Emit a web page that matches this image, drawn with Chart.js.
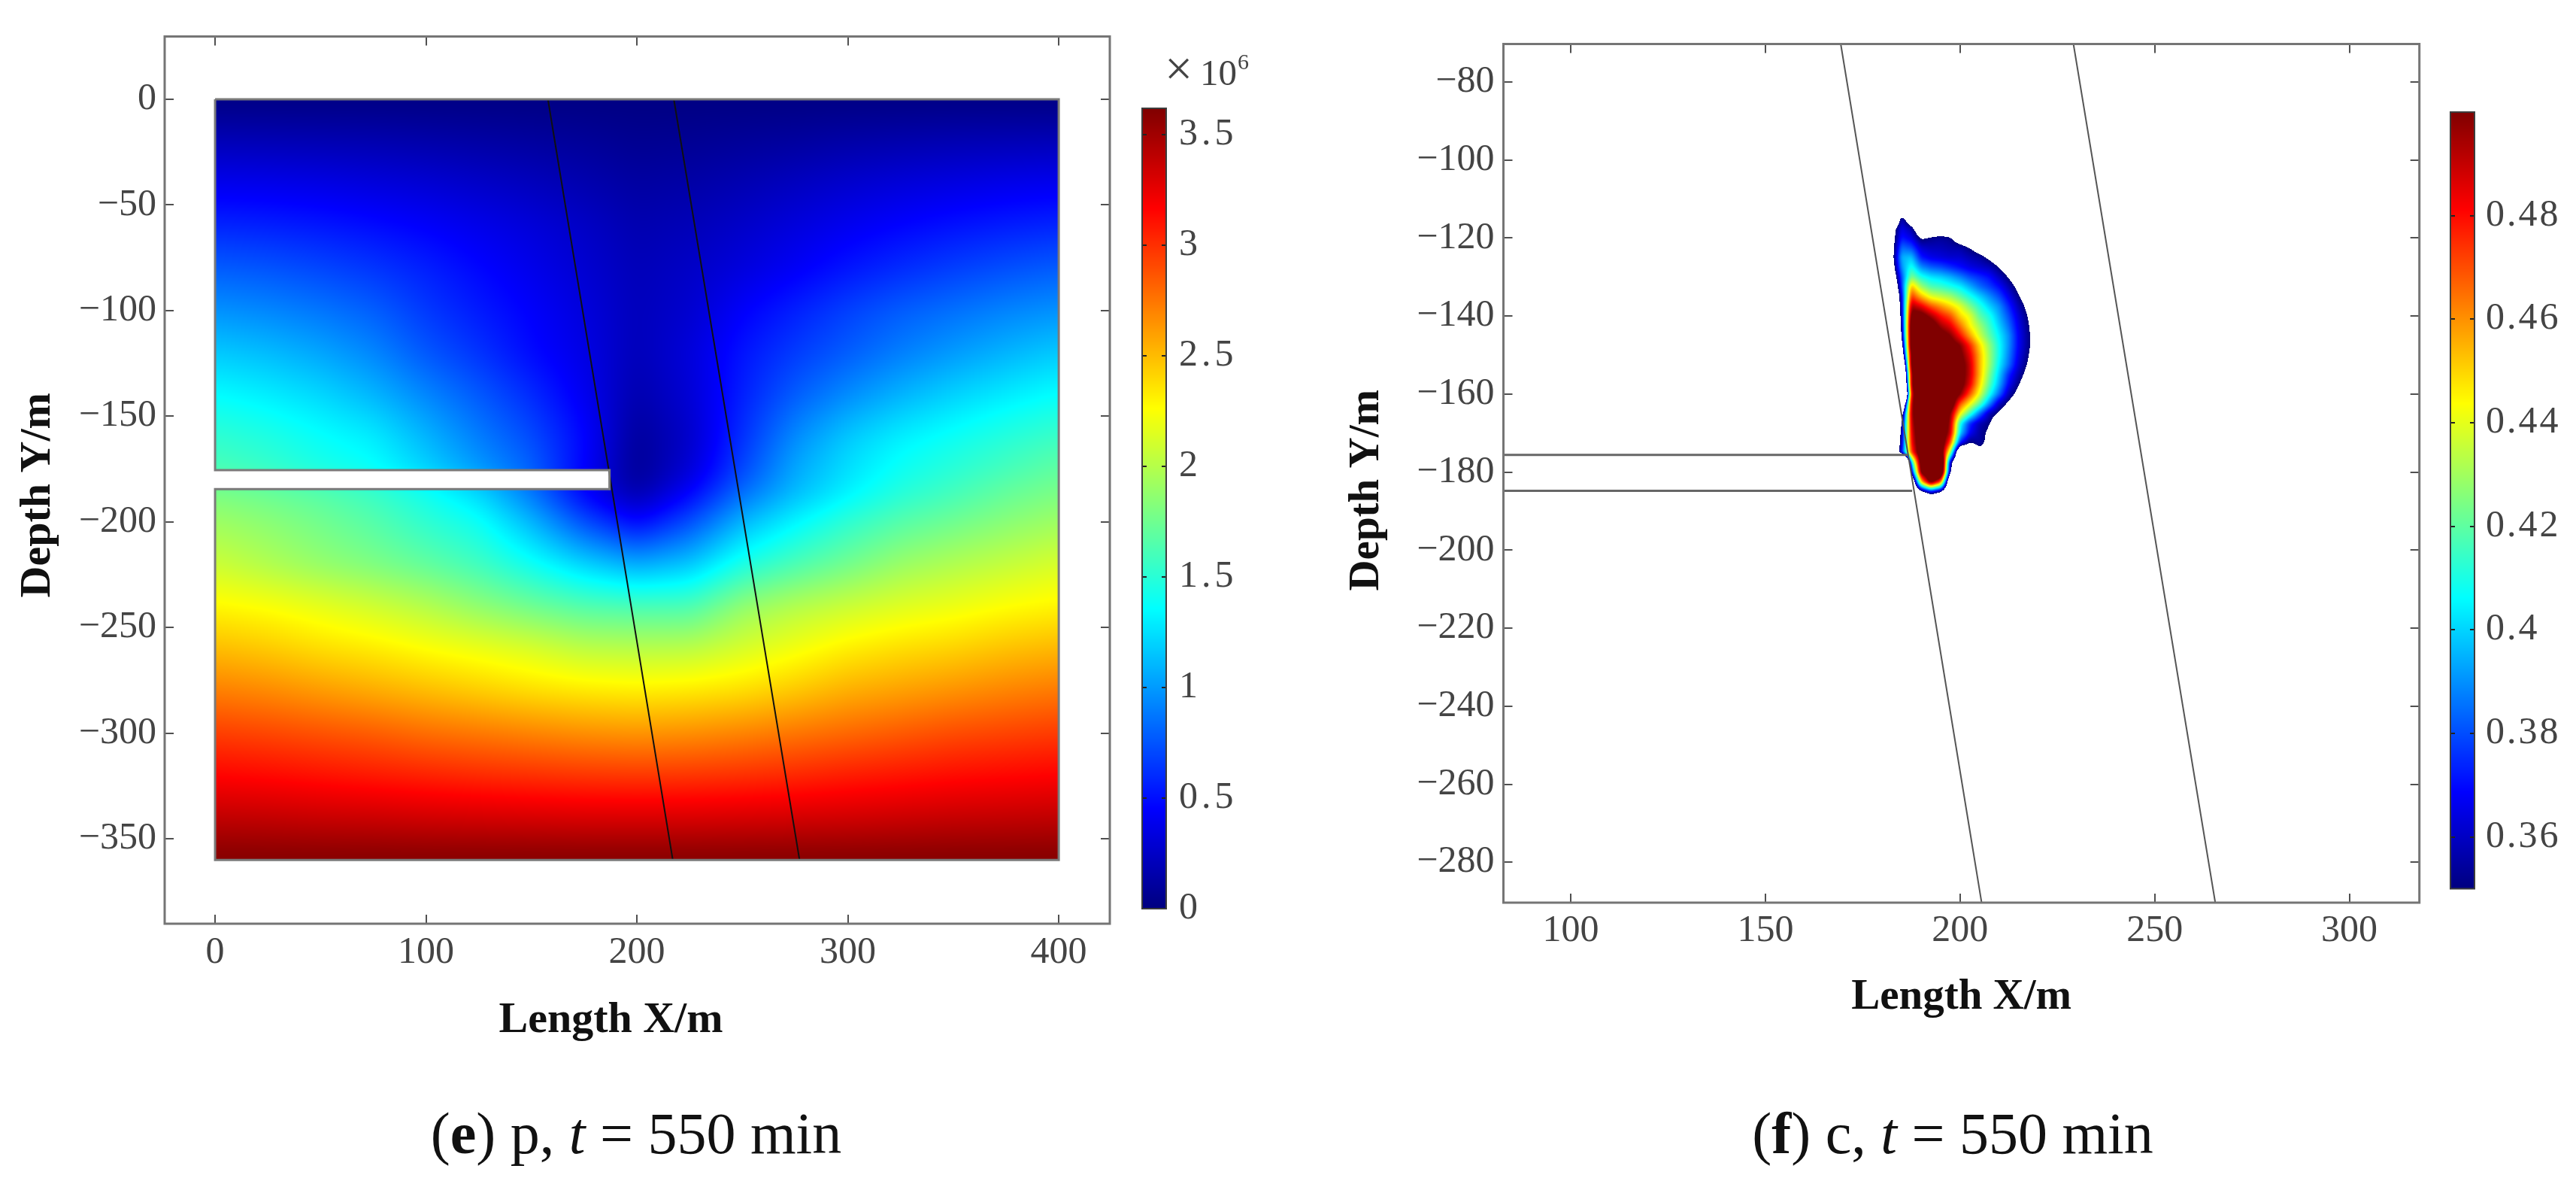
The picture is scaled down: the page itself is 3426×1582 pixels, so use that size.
<!DOCTYPE html>
<html><head><meta charset="utf-8">
<style>
html,body{margin:0;padding:0;background:#fff;width:3426px;height:1582px;overflow:hidden}
canvas{position:absolute}
.t{position:absolute;font-family:"Liberation Serif",serif;color:#111;white-space:nowrap;transform:translate(-50%,-50%)}
.cap{font-size:78px}
.m{position:absolute;font-family:"Liberation Serif",serif;color:#444;white-space:nowrap;line-height:1}
</style>
<script src="https://cdn.jsdelivr.net/npm/chart.js@4/dist/chart.umd.min.js"></script>
</head><body>
<canvas id="pMain"></canvas><canvas id="pBar"></canvas><canvas id="cMain"></canvas><canvas id="cBar"></canvas>
<div class="m" style="left:1549px;top:58px;font-size:66px">×</div>
<div class="m" style="left:1596px;top:72px;font-size:49px">10</div>
<div class="m" style="left:1646px;top:67px;font-size:30px">6</div>
<div class="t cap" style="left:846px;top:1507px">(<b>e</b>) p, <i>t</i> = 550 min</div>
<div class="t cap" style="left:2597px;top:1507px">(<b>f</b>) c, <i>t</i> = 550 min</div>
<script>
// ---------- values ----------
const xTitle = "Length X/m", yTitle = "Depth Y/m";
const pXTicks = [0,100,200,300,400];
const pYTicks = [0,-50,-100,-150,-200,-250,-300,-350];
const pBarTicks = [0,0.5,1,1.5,2,2.5,3,3.5];
const cXTicks = [100,150,200,250,300];
const cYTicks = [-80,-100,-120,-140,-160,-180,-200,-220,-240,-260,-280];
const cBarTicks = [0.36,0.38,0.4,0.42,0.44,0.46,0.48];
const faultAX = [157.8,217.0], faultAY = [0,-360];
const faultBX = [217.5,277.1], faultBY = [0,-360];
const outlineX = [0,400,400,0,0,187,187,0,0];
const outlineY = [0,0,-360,-360,-184.5,-184.5,-175.5,-175.5,0];
const slotTopX = [0,186.5], slotTopY = [-175.6,-175.6];
const slotLowX = [0,187.7], slotLowY = [-184.8,-184.8];

// pressure (x10^6) at grid nodes
const pGridX = [0,25,50,75,100,125,150,175,200,225,250,275,300,325,350,375,400];
const pGridY = [0,-20,-40,-60,-80,-100,-120,-140,-160,-175,-185,-200,-220,-240,-260,-280,-300,-320,-340,-360];
const pGrid = [
[.01,.01,.01,.01,.01,.01,.01,.01,.01,.01,.01,.01,.01,.01,.01,.01,.01],
[.20,.19,.18,.17,.15,.13,.11,.09,.06,.07,.09,.11,.14,.16,.18,.19,.20],
[.39,.38,.36,.33,.30,.26,.22,.17,.12,.14,.18,.23,.28,.32,.35,.38,.40],
[.58,.56,.53,.49,.44,.38,.32,.25,.17,.20,.26,.33,.40,.46,.51,.55,.58],
[.78,.75,.70,.64,.56,.47,.38,.29,.20,.25,.33,.42,.52,.60,.67,.73,.78],
[.97,.93,.87,.79,.65,.54,.44,.33,.21,.28,.44,.56,.68,.78,.85,.92,.97],
[1.17,1.12,1.04,.93,.76,.63,.48,.36,.20,.32,.52,.66,.78,.90,1.0,1.09,1.17],
[1.36,1.30,1.22,1.10,.93,.77,.60,.40,.16,.30,.56,.78,.95,1.09,1.20,1.29,1.37],
[1.53,1.47,1.38,1.30,1.10,.90,.72,.47,.09,.26,.62,.95,1.17,1.31,1.40,1.49,1.57],
[1.62,1.55,1.45,1.38,1.20,1.00,.80,.45,.07,.30,.70,1.05,1.25,1.40,1.50,1.60,1.70],
[1.78,1.72,1.65,1.55,1.40,1.20,.85,.42,.12,.42,.82,1.10,1.30,1.47,1.58,1.70,1.78],
[1.92,1.85,1.76,1.66,1.52,1.40,1.10,.72,.45,.72,1.10,1.33,1.52,1.66,1.75,1.84,1.92],
[2.08,1.98,1.88,1.80,1.70,1.58,1.40,1.20,1.05,1.15,1.45,1.62,1.76,1.90,1.98,2.05,2.12],
[2.29,2.25,2.18,2.10,2.00,1.87,1.75,1.65,1.62,1.62,1.88,2.00,2.08,2.15,2.20,2.26,2.30],
[2.50,2.45,2.38,2.33,2.26,2.20,2.13,2.03,2.01,2.02,2.12,2.22,2.32,2.38,2.42,2.48,2.52],
[2.72,2.68,2.62,2.56,2.50,2.44,2.38,2.34,2.32,2.34,2.38,2.46,2.55,2.60,2.65,2.70,2.74],
[2.95,2.92,2.88,2.84,2.78,2.74,2.70,2.66,2.64,2.66,2.70,2.75,2.80,2.85,2.90,2.93,2.96],
[3.16,3.14,3.11,3.08,3.05,3.02,3.00,2.98,2.97,2.98,3.00,3.03,3.07,3.10,3.13,3.15,3.17],
[3.39,3.38,3.36,3.35,3.33,3.32,3.31,3.30,3.30,3.30,3.31,3.32,3.33,3.35,3.37,3.38,3.39],
[3.62,3.62,3.62,3.62,3.62,3.62,3.62,3.62,3.62,3.62,3.62,3.62,3.62,3.62,3.62,3.62,3.62]
];

// concentration at grid nodes (below 0.35 is blank)
const cGridX = [182.5,185,187.5,190,192.5,195,197.5,200,202.5,205,207.5,210,212.5,215,217.5,220];
const cGridY = [-112.5,-115,-117.5,-120,-122.5,-125,-127.5,-130,-132.5,-135,-137.5,-140,-142.5,-145,-147.5,-150,-152.5,-155,-157.5,-160,-162.5,-165,-167.5,-170,-172.5,-175,-177.5,-180,-182.5,-185,-187.5];
const cGrid = [
[.30,.30,.30,.30,.30,.30,.30,.30,.30,.30,.30,.30,.30,.30,.30,.30],
[.30,.36,.33,.30,.30,.30,.30,.30,.30,.30,.30,.30,.30,.30,.30,.30],
[.34,.365,.356,.33,.33,.335,.33,.31,.30,.30,.30,.30,.30,.30,.30,.30],
[.34,.372,.365,.348,.352,.354,.352,.34,.33,.325,.31,.30,.30,.30,.30,.30],
[.34,.385,.38,.362,.359,.3585,.3565,.356,.35,.342,.334,.32,.30,.30,.30,.30],
[.34,.395,.398,.372,.366,.364,.362,.362,.358,.355,.347,.338,.328,.31,.30,.30],
[.335,.39,.41,.39,.383,.38,.375,.37,.365,.362,.359,.35,.3386,.328,.31,.30],
[.325,.38,.425,.41,.403,.40,.395,.388,.38,.375,.37,.36,.349,.337,.324,.31],
[.31,.375,.455,.43,.418,.415,.41,.405,.395,.385,.378,.37,.358,.345,.332,.32],
[.30,.365,.475,.455,.44,.435,.43,.42,.41,.40,.39,.38,.366,.352,.339,.325],
[.30,.36,.495,.485,.47,.46,.45,.44,.425,.412,.40,.39,.374,.358,.345,.33],
[.30,.355,.51,.51,.495,.48,.47,.45,.44,.42,.41,.395,.38,.363,.349,.334],
[.30,.35,.52,.52,.515,.495,.485,.465,.445,.43,.415,.40,.385,.366,.3515,.337],
[.30,.345,.52,.52,.52,.51,.50,.48,.458,.437,.42,.405,.39,.368,.353,.338],
[.30,.33,.52,.52,.52,.52,.51,.50,.477,.45,.428,.408,.39,.368,.353,.338],
[.30,.31,.51,.52,.52,.52,.52,.505,.485,.455,.43,.408,.388,.366,.351,.336],
[.30,.27,.51,.52,.52,.52,.52,.51,.49,.455,.43,.405,.385,.3625,.348,.333],
[.30,.23,.50,.52,.52,.52,.52,.51,.49,.455,.425,.40,.374,.357,.3433,.329],
[.30,.20,.50,.52,.52,.52,.52,.51,.485,.45,.42,.395,.368,.351,.338,.32],
[.30,.15,.49,.52,.52,.52,.52,.50,.47,.44,.41,.385,.358,.344,.33,.30],
[.30,.27,.495,.52,.52,.52,.52,.47,.444,.42,.39,.36,.346,.334,.31,.30],
[.30,.33,.495,.52,.52,.52,.50,.445,.415,.385,.358,.347,.3356,.31,.30,.30],
[.30,.345,.49,.52,.52,.52,.495,.41,.375,.358,.351,.335,.31,.30,.30,.30],
[.30,.355,.485,.52,.52,.52,.49,.40,.368,.355,.347,.33,.30,.30,.30,.30],
[.30,.36,.48,.52,.52,.52,.47,.372,.349,.355,.345,.32,.30,.30,.30,.30],
[.30,.37,.47,.52,.52,.52,.43,.30,.32,.345,.33,.30,.30,.30,.30,.30],
[.30,.15,.40,.515,.52,.56,.36,.30,.30,.31,.30,.30,.30,.30,.30,.30],
[.30,.15,.36,.505,.53,.55,.347,.30,.30,.30,.30,.30,.30,.30,.30,.30],
[.30,.30,.30,.45,.51,.47,.30,.30,.30,.30,.30,.30,.30,.30,.30,.30],
[.30,.30,.30,.34,.37,.35,.30,.30,.30,.30,.30,.30,.30,.30,.30,.30],
[.30,.30,.30,.30,.30,.30,.30,.30,.30,.30,.30,.30,.30,.30,.30,.30]
];

// ---------- rendering ----------
const FONT = '"Liberation Serif", serif';
const TICK_SIZE = 50;
const pts = (xs,ys)=>xs.map((x,i)=>({x,y:ys[i]}));
const clamp01 = v=>v<0?0:v>1?1:v;
function jet(n){return [255*clamp01(1.5-Math.abs(4*n-3)),255*clamp01(1.5-Math.abs(4*n-2)),255*clamp01(1.5-Math.abs(4*n-1))];}
function fmt(v){return String(v).replace('-','\u2212');}
function idx(arr,v,desc){
  let i=0; const n=arr.length-2;
  if(desc){while(i<n&&v<arr[i+1])i++;} else {while(i<n&&v>arr[i+1])i++;}
  return [i,clamp01((v-arr[i])/(arr[i+1]-arr[i]))];
}
function boxBlur(buf,w,h,r){
  const t=new Float32Array(w*h);
  for(let j=0;j<h;j++){let s=0;
    for(let i=-r;i<=r;i++)s+=buf[j*w+Math.min(w-1,Math.max(0,i))];
    for(let i=0;i<w;i++){t[j*w+i]=s/(2*r+1);
      s+=buf[j*w+Math.min(w-1,i+r+1)]-buf[j*w+Math.max(0,i-r)];}}
  for(let i=0;i<w;i++){let s=0;
    for(let j=-r;j<=r;j++)s+=t[Math.min(h-1,Math.max(0,j))*w+i];
    for(let j=0;j<h;j++){buf[j*w+i]=s/(2*r+1);
      s+=t[Math.min(h-1,j+r+1)*w+i]-t[Math.max(0,j-r)*w+i];}}
}
function fieldPlugin(gx,gy,grid,lo,hi,blur,passes,hole,blank){
  return {id:'field',beforeDatasetsDraw(chart){
    const sx=chart.scales.x, sy=chart.scales.y, ctx=chart.ctx;
    const x0=Math.round(sx.getPixelForValue(gx[0])), x1=Math.round(sx.getPixelForValue(gx[gx.length-1]));
    const y0=Math.round(sy.getPixelForValue(gy[0])), y1=Math.round(sy.getPixelForValue(gy[gy.length-1]));
    const w=x1-x0, h=y1-y0, buf=new Float32Array(w*h);
    for(let j=0;j<h;j++){
      const [b,fy]=idx(gy,sy.getValueForPixel(y0+j+.5),true);
      for(let i=0;i<w;i++){
        const [a,fx]=idx(gx,sx.getValueForPixel(x0+i+.5),false);
        buf[j*w+i]=(1-fy)*((1-fx)*grid[b][a]+fx*grid[b][a+1])+fy*((1-fx)*grid[b+1][a]+fx*grid[b+1][a+1]);
      }
    }
    for(let p=0;p<passes;p++)boxBlur(buf,w,h,blur);
    const off=document.createElement('canvas');off.width=w;off.height=h;
    const oc=off.getContext('2d'), im=oc.createImageData(w,h), d=im.data;
    for(let j=0;j<h;j++){
      const yv=sy.getValueForPixel(y0+j+.5);
      for(let i=0;i<w;i++){
        const v=buf[j*w+i], k=(j*w+i)*4;
        if(blank&&v<lo)continue;
        if(hole&&yv<hole[2]&&yv>hole[3]&&sx.getValueForPixel(x0+i+.5)<hole[1])continue;
        const c=jet(clamp01((v-lo)/(hi-lo)));
        d[k]=c[0];d[k+1]=c[1];d[k+2]=c[2];d[k+3]=255;
      }
    }
    oc.putImageData(im,0,0);
    ctx.drawImage(off,x0,y0);
  }};
}
const frame={id:'frame',beforeDraw(chart){chart.ctx.letterSpacing='0px';},afterDatasetsDraw(chart){
  const a=chart.chartArea,c=chart.ctx,sx=chart.scales.x,sy=chart.scales.y;
  c.save();c.strokeStyle='#505050';c.lineWidth=2;c.beginPath();
  sx.ticks.forEach(t=>{const p=Math.round(sx.getPixelForValue(t.value));c.moveTo(p,a.bottom);c.lineTo(p,a.bottom-12);c.moveTo(p,a.top);c.lineTo(p,a.top+12);});
  sy.ticks.forEach(t=>{const p=Math.round(sy.getPixelForValue(t.value));c.moveTo(a.left,p);c.lineTo(a.left+12,p);c.moveTo(a.right,p);c.lineTo(a.right-12,p);});
  c.stroke();
  c.strokeStyle='#757575';c.lineWidth=3;c.strokeRect(a.left,a.top,a.right-a.left,a.bottom-a.top);
  c.restore();
}};
function axis(cfg){
  const shift=cfg.shift||[0,0];
  return {type:'linear',min:cfg.min,max:cfg.max,position:cfg.pos,
    afterBuildTicks:s=>{s.ticks=cfg.ticks.map(v=>({value:v}));},
    afterFit:s=>{
      if(cfg.pos==='left')s.width=cfg.size;else s.height=cfg.size;
      if(!s._titleShifted){const o=s.drawTitle;s._titleShifted=true;
        s.drawTitle=function(){const c=this.ctx;c.save();c.translate(shift[0],shift[1]);o.call(this);c.restore();};}
    },
    grid:{display:false,drawTicks:false},border:{display:false},
    ticks:{autoSkip:false,maxRotation:0,minRotation:0,padding:cfg.pad,color:'#444',font:{family:FONT,size:TICK_SIZE},callback:fmt},
    title:{display:true,text:cfg.title,color:'#111',font:{family:FONT,size:cfg.tsize,weight:'bold'},
      padding:{top:cfg.tpad||0,bottom:0}}};
}
function mainChart(id,left,top,W,H,opt,datasets,plugin){
  const el=document.getElementById(id);el.style.left=left+'px';el.style.top=top+'px';el.width=W;el.height=H;
  new Chart(el,{type:'scatter',data:{datasets},plugins:[plugin,frame],options:{
    responsive:false,animation:false,devicePixelRatio:1,
    layout:{padding:{left:0,top:opt.padTop,right:opt.padRight,bottom:0}},
    plugins:{legend:{display:false},tooltip:{enabled:false}},
    scales:{x:axis(opt.x),y:axis(opt.y)}}});
}
function line(xs,ys,color,w){return {data:pts(xs,ys),showLine:true,borderColor:color,borderWidth:w,pointRadius:0,fill:false,tension:0};}
function barChart(id,left,top,W,H,opt){
  const el=document.getElementById(id);el.style.left=left+'px';el.style.top=top+'px';el.width=W;el.height=H;
  new Chart(el,{type:'scatter',data:{datasets:[]},plugins:[{id:'ramp',
    beforeDraw(chart){chart.ctx.letterSpacing=opt.spacing;},
    afterDraw(chart){
      const a=chart.chartArea,c=chart.ctx,s=chart.scales.y;
      for(let p=Math.round(a.top);p<Math.round(a.bottom);p++){
        const col=jet(clamp01((s.getValueForPixel(p+.5)-opt.min)/(opt.max-opt.min)));
        c.fillStyle=`rgb(${col[0]},${col[1]},${col[2]})`;c.fillRect(a.left,p,a.right-a.left,1);
      }
      c.save();c.strokeStyle='#222';c.lineWidth=2;c.beginPath();
      s.ticks.forEach(t=>{const p=Math.round(s.getPixelForValue(t.value));c.moveTo(a.left,p);c.lineTo(a.left+6,p);c.moveTo(a.right,p);c.lineTo(a.right-6,p);});
      c.stroke();c.strokeStyle='#3c3c3c';c.lineWidth=2;c.strokeRect(a.left,a.top,a.right-a.left,a.bottom-a.top);c.restore();
    }}],options:{
    responsive:false,animation:false,devicePixelRatio:1,
    layout:{padding:{left:opt.left,top:opt.top,right:0,bottom:opt.bottom}},
    plugins:{legend:{display:false},tooltip:{enabled:false}},
    scales:{x:{display:false,min:0,max:1},
      y:{type:'linear',min:opt.min,max:opt.max,position:'right',
        afterBuildTicks:s=>{s.ticks=opt.ticks.map(v=>({value:v}));},
        afterFit:s=>{s.width=opt.width;},
        grid:{display:false,drawTicks:false},border:{display:false},
        ticks:{autoSkip:false,padding:opt.pad,color:'#444',font:{family:FONT,size:TICK_SIZE},callback:fmt}}}}});
}

mainChart('pMain',0,0,1500,1392,{padTop:48.5,padRight:24,
  x:{min:-23.9,max:424.2,pos:'bottom',ticks:pXTicks,size:164,pad:9,title:xTitle,tsize:58,shift:[-35,0]},
  y:{min:-390.2,max:29.7,pos:'left',ticks:pYTicks,size:219,pad:11,title:yTitle,tsize:58,tpad:16,shift:[0,20]}},
  [line(outlineX,outlineY,'#7a7a7a',3),line(faultAX,faultAY,'#101010',2),line(faultBX,faultBY,'#101010',2)],
  fieldPlugin(pGridX,pGridY,pGrid,0,3.62,16,2,[0,187,-175.5,-184.5],false));
barChart('pBar',1500,0,220,1300,{left:19,top:144,bottom:92,width:169,min:0,max:3.62,ticks:pBarTicks,pad:17,spacing:'5px'});

mainChart('cMain',1760,0,1480,1360,{padTop:58.5,padRight:22.3,
  x:{min:82.7,max:318,pos:'bottom',ticks:cXTicks,size:160,pad:8,title:xTitle,tsize:57},
  y:{min:-290.35,max:-70.26,pos:'left',ticks:cYTicks,size:239.5,pad:12,title:yTitle,tsize:57,tpad:24,shift:[0,22.5]}},
  [line(slotTopX,slotTopY,'#666',3),line(slotLowX,slotLowY,'#666',3),line(faultAX,faultAY,'#555',2),line(faultBX,faultBY,'#555',2)],
  fieldPlugin(cGridX,cGridY,cGrid,0.35,0.5,2,2,null,true));
barChart('cBar',3240,0,186,1300,{left:19,top:149,bottom:118.5,width:135,min:0.35,max:0.5,ticks:cBarTicks,pad:15,spacing:'3px'});
</script>
</body></html>
